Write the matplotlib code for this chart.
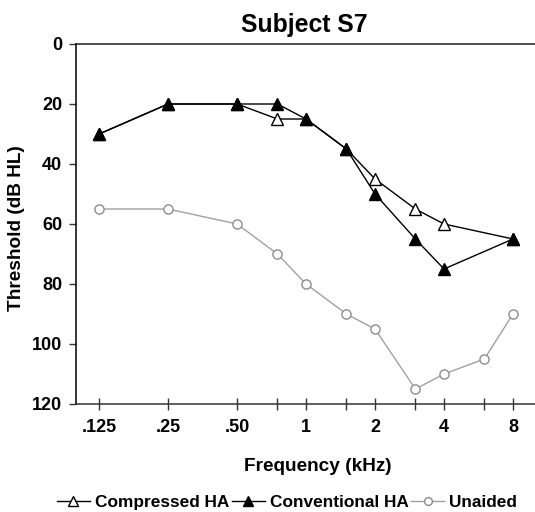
import matplotlib
matplotlib.use("Agg")
import matplotlib.pyplot as plt
from matplotlib.ticker import FixedLocator, FixedFormatter, NullFormatter

plt.rcParams['font.family'] = ['Liberation Sans', 'DejaVu Sans']
plt.rcParams['font.weight'] = 'bold'

# Data
freqs = [0.125, 0.25, 0.5, 0.75, 1, 1.5, 2, 3, 4, 6, 8]
hl_freqs = [0.125, 0.25, 0.5, 0.75, 1, 1.5, 2, 3, 4, 8]
compressed = [30, 20, 20, 25, 25, 35, 45, 55, 60, 65]
conventional = [30, 20, 20, 20, 25, 35, 50, 65, 75, 65]
unaided = [55, 55, 60, 70, 80, 90, 95, 115, 110, 105, 90]

major_ticks = [0.125, 0.25, 0.5, 1, 2, 4, 8]
major_labels = ['.125', '.25', '.50', '1', '2', '4', '8']
minor_ticks = [0.75, 1.5, 3, 6]
y_ticks = [0, 20, 40, 60, 80, 100, 120]

W, H = 535, 512
fig = plt.figure(figsize=(W / 100, H / 100), dpi=100)
ax = fig.add_axes([75.7 / W, 1 - 404 / H, 1 - 75.7 / W, 360 / H])

ax.plot(freqs, unaided, color='#a0a0a0', lw=1.0, marker='o', ms=6.6,
        mfc='white', mec='#8c8c8c', mew=1.0, label='Unaided', zorder=2)
ax.plot(hl_freqs, compressed, color='black', lw=1.0, marker='^', ms=9.3,
        mfc='white', mec='black', mew=1.0, label='Compressed HA', zorder=3)
ax.plot(hl_freqs, conventional, color='black', lw=1.0, marker='^', ms=9.3,
        mfc='black', mec='black', mew=1.0, label='Conventional HA', zorder=4)

ax.set_xscale('log')
ax.set_xlim(0.0988, 9.98)
ax.set_ylim(120, 0)

ax.xaxis.set_major_locator(FixedLocator(major_ticks))
ax.xaxis.set_major_formatter(FixedFormatter(major_labels))
ax.xaxis.set_minor_locator(FixedLocator(minor_ticks))
ax.xaxis.set_minor_formatter(NullFormatter())
ax.set_yticks(y_ticks)

ax.tick_params(axis='x', which='both', direction='inout', length=8.2, width=1.0,
               labelsize=13, pad=7, color='#333333')
ax.tick_params(axis='y', direction='out', length=4.7, width=1.0,
               labelsize=13, pad=5, color='#333333')
for lab in ax.get_xticklabels() + ax.get_yticklabels():
    lab.set_fontweight('bold')

ax.spines['right'].set_visible(False)
for s in ['left', 'bottom', 'top']:
    ax.spines[s].set_linewidth(1.1)
ax.spines['left'].set_color('black')
ax.spines['bottom'].set_color('#333333')
ax.spines['top'].set_color('#222222')

fig.text(304 / W, 1 - 32 / H, 'Subject S7', ha='center', va='baseline',
         fontsize=17.8, fontweight='bold')
fig.text(318 / W, 1 - 471 / H, 'Frequency (kHz)', ha='center', va='baseline',
         fontsize=13.7, fontweight='bold')
fig.text(17 / W, 1 - 228 / H, 'Threshold (dB HL)', ha='center', va='center',
         rotation=90, fontsize=13.7, fontweight='bold')

handles, labels = ax.get_legend_handles_labels()
order = [1, 2, 0]
leg = fig.legend([handles[i] for i in order], [labels[i] for i in order],
                 loc='center', bbox_to_anchor=(287 / W, 1 - 502 / H), ncol=3,
                 frameon=False, fontsize=12.4, handlelength=1.9,
                 handletextpad=0.3, columnspacing=0.15, borderpad=0,
                 markerscale=0.85)
for t in leg.get_texts():
    t.set_fontweight('bold')

fig.savefig('out.png', dpi=100)
